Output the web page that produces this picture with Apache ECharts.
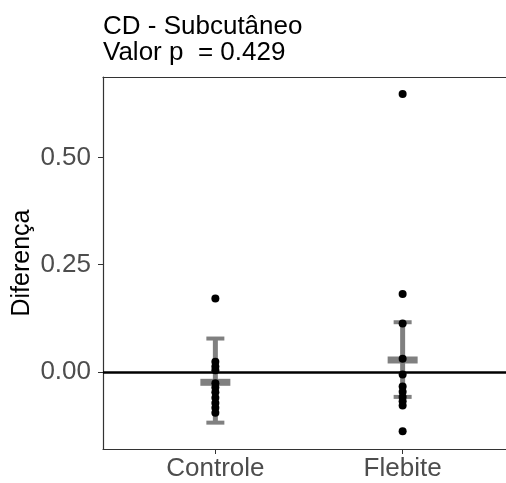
<!DOCTYPE html>
<html>
<head>
<meta charset="utf-8">
<script src="https://cdn.jsdelivr.net/npm/echarts@6/dist/echarts.min.js"></script>
<style>
  html, body { margin: 0; padding: 0; background: #fff; overflow: hidden; }
  /* the plot panel runs past the right edge of the picture, as in the reference */
  #chart { width: 515px; height: 483px; }
</style>
</head>
<body>
<div id="chart"></div>
<script>
const categories = ['Controle', 'Flebite']
const controle = [0.171, 0.024, 0.013, 0.004, -0.026, -0.036, -0.047, -0.06, -0.072, -0.083, -0.095]
const flebite = [0.648, 0.182, 0.113, 0.031, -0.006, -0.034, -0.046, -0.058, -0.068, -0.078, -0.138]
const means = [-0.024, 0.028]
const upper = [0.078, 0.116]
const lower = [-0.118, -0.058]
const yTicks = [0, 0.25, 0.5]

const FONT = 'Liberation Sans'
const chart = echarts.init(document.getElementById('chart'), null, { renderer: 'canvas' })

const points = []
controle.forEach((v) => points.push([1, v]))
flebite.forEach((v) => points.push([2, v]))

const bars = categories.map((c, i) => [i + 1, means[i], lower[i], upper[i]])

const axisLineStyle = { color: '#333', width: 1.2 }

chart.setOption({
  animation: false,
  backgroundColor: '#fff',
  title: {
    text: 'CD - Subcutâneo\nValor p  = 0.429',
    left: 103,
    top: 14,
    padding: 0,
    textStyle: { fontFamily: FONT, fontSize: 26, fontWeight: 'normal', color: '#000', lineHeight: 26 },
  },
  grid: { left: 103, top: 77, bottom: 34, right: 0, containLabel: false, outerBoundsMode: 'none' },
  xAxis: [
    {
      type: 'value',
      min: 0.4,
      max: 2.6,
      splitLine: { show: false },
      axisLine: { show: true, onZero: false, lineStyle: axisLineStyle },
      axisTick: { show: true, length: 5, customValues: [1, 2], lineStyle: { color: '#333' } },
      axisLabel: {
        customValues: [1, 2],
        formatter: (v) => categories[Math.round(v) - 1],
        fontFamily: FONT, fontSize: 26, color: '#4d4d4d', margin: 7,
      },
    },
    {
      type: 'value',
      position: 'top',
      min: 0.4,
      max: 2.6,
      splitLine: { show: false },
      axisLine: { show: true, onZero: false, lineStyle: axisLineStyle },
      axisTick: { show: false },
      axisLabel: { show: false },
    },
  ],
  yAxis: {
    type: 'value',
    min: -0.1794,
    max: 0.6874,
    name: 'Diferença',
    nameLocation: 'middle',
    nameGap: 68,
    nameMoveOverlap: false,
    nameTextStyle: { fontFamily: FONT, fontSize: 25, color: '#000' },
    splitLine: { show: false },
    axisLine: { show: true, onZero: false, lineStyle: axisLineStyle },
    axisTick: { show: true, length: 5, customValues: yTicks, lineStyle: { color: '#333' } },
    axisLabel: {
      customValues: yTicks,
      formatter: (v) => v.toFixed(2),
      fontFamily: FONT, fontSize: 26, color: '#4d4d4d', margin: 12,
    },
  },
  series: [
    {
      type: 'custom',
      data: bars,
      z: 2,
      renderItem: (params, api) => {
        const x = api.value(0)
        const m = api.coord([x, api.value(1)])
        const lo = api.coord([x, api.value(2)])
        const hi = api.coord([x, api.value(3)])
        const grey = { fill: '#808080' }
        return {
          type: 'group',
          children: [
            { type: 'rect', shape: { x: m[0] - 2.5, y: hi[1], width: 5, height: lo[1] - hi[1] }, style: grey },
            { type: 'rect', shape: { x: m[0] - 9, y: hi[1] - 2, width: 18, height: 4 }, style: grey },
            { type: 'rect', shape: { x: m[0] - 9, y: lo[1] - 2, width: 18, height: 4 }, style: grey },
            { type: 'rect', shape: { x: m[0] - 15, y: m[1] - 3.5, width: 30, height: 7 }, style: grey },
          ],
        }
      },
    },
    {
      type: 'scatter',
      data: points,
      z: 4,
      symbolSize: 8,
      itemStyle: { color: '#000', opacity: 1 },
      markLine: {
        silent: true,
        symbol: 'none',
        label: { show: false },
        lineStyle: { color: '#000', width: 2.5, type: 'solid' },
        data: [{ yAxis: 0 }],
        z: 3,
      },
    },
  ],
})
</script>
</body>
</html>
